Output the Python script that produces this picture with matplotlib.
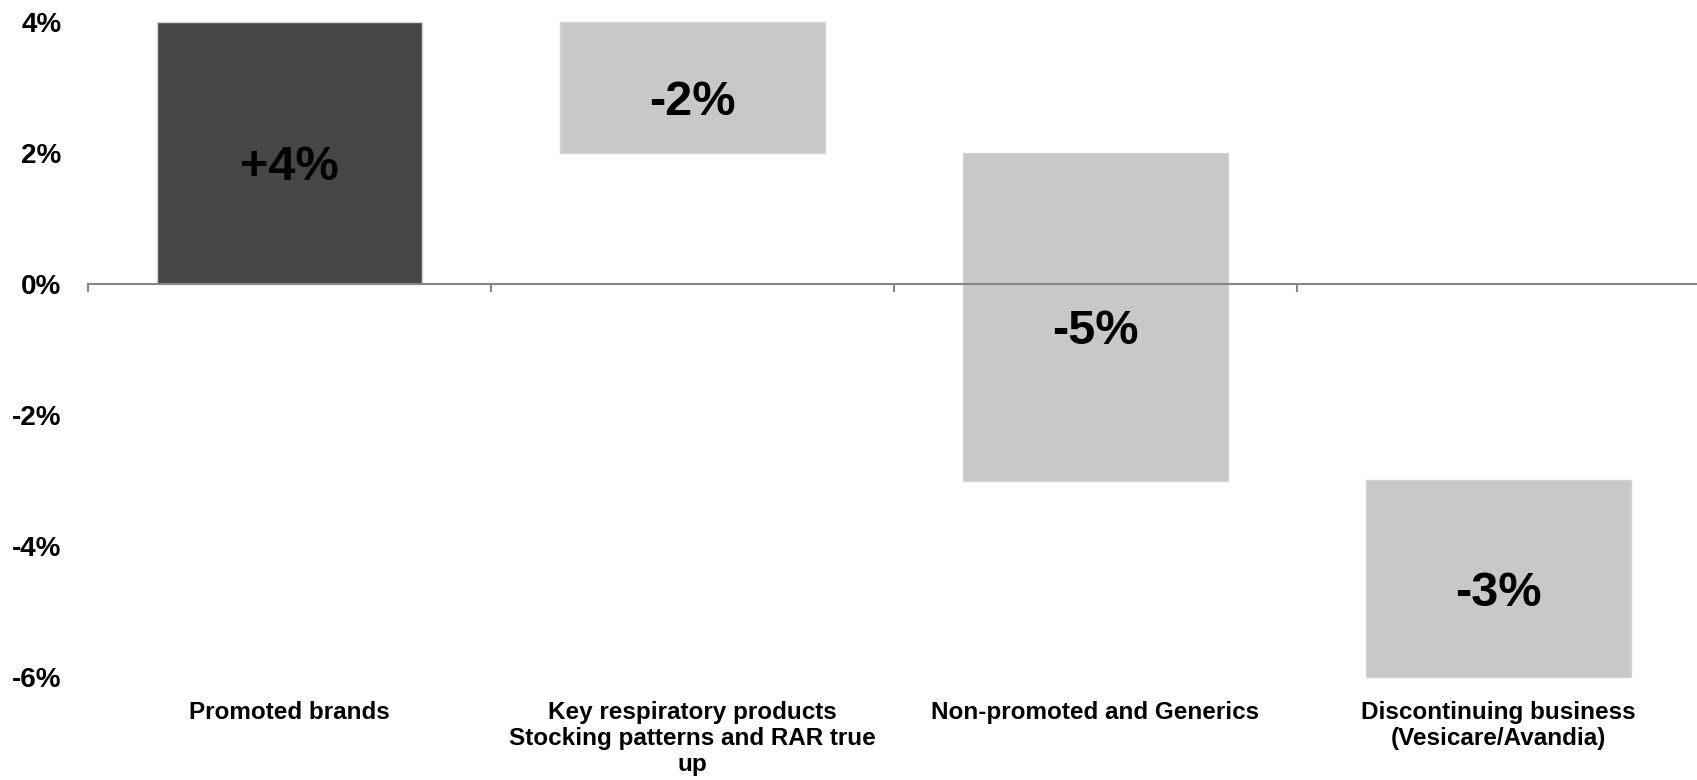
import numpy as np
import matplotlib
matplotlib.use('Agg')
import matplotlib.pyplot as plt
from matplotlib.transforms import blended_transform_factory

# Sales growth bridge (percentage points)
categories = [
    'Promoted brands',
    'Key respiratory products\nStocking patterns and RAR true\nup',
    'Non-promoted and Generics',
    'Discontinuing business\n(Vesicare/Avandia)',
]
changes = np.array([4, -2, -5, -3])
y_ticks = [-6, -4, -2, 0, 2, 4]

plt.rcParams['font.family'] = ['Liberation Sans', 'DejaVu Sans']

# Each step starts where the previous one ended
ends = np.cumsum(changes)
starts = ends - changes

fig = plt.figure(figsize=(16.97, 7.8), dpi=100)
ax = fig.add_axes([88 / 1697, 103 / 780, 1612 / 1697, 655 / 780])

x = np.arange(len(categories))
colors = ['#464646'] + ['#c8c8c8'] * (len(categories) - 1)
bars = ax.bar(x, changes, bottom=starts, width=0.66, color=colors,
              edgecolor='#d4d4d4', linewidth=1, clip_on=False, zorder=1)

# Value label near the middle of each step
for xi, s, c in zip(x, starts, changes):
    label = f'+{c}%' if c > 0 else f'{c}%'
    ax.text(xi, s + c / 2 - 0.15, label, ha='center', va='center_baseline',
            fontsize=35, fontweight='bold', color='black', zorder=3)

ax.set_xlim(-0.5, len(categories) - 0.5)
ax.set_ylim(-6, 4)

# Zero line carries the category boundary ticks
for side in ['left', 'right', 'top']:
    ax.spines[side].set_visible(False)
ax.spines['bottom'].set_position(('data', 0))
ax.spines['bottom'].set_color('#868686')
ax.spines['bottom'].set_linewidth(1.5)
ax.spines['bottom'].set_zorder(2)
ax.set_xticks(np.arange(-0.5, len(categories), 1.0))
ax.set_xticklabels([])
ax.tick_params(axis='x', direction='out', length=6, width=1.5, color='#868686')

ax.set_yticks(y_ticks)
ax.set_yticklabels([f'{v}%' for v in y_ticks], fontsize=20, fontweight='bold')
ax.tick_params(axis='y', length=0, pad=19)

# Category names under the plot area
trans = blended_transform_factory(ax.transData, ax.transAxes)
for xi, name in zip(x, categories):
    ax.text(xi, -0.036, name, transform=trans, ha='center', va='top',
            fontsize=17.5, fontweight='bold', linespacing=1.17)

fig.savefig('out.png', dpi=100)
